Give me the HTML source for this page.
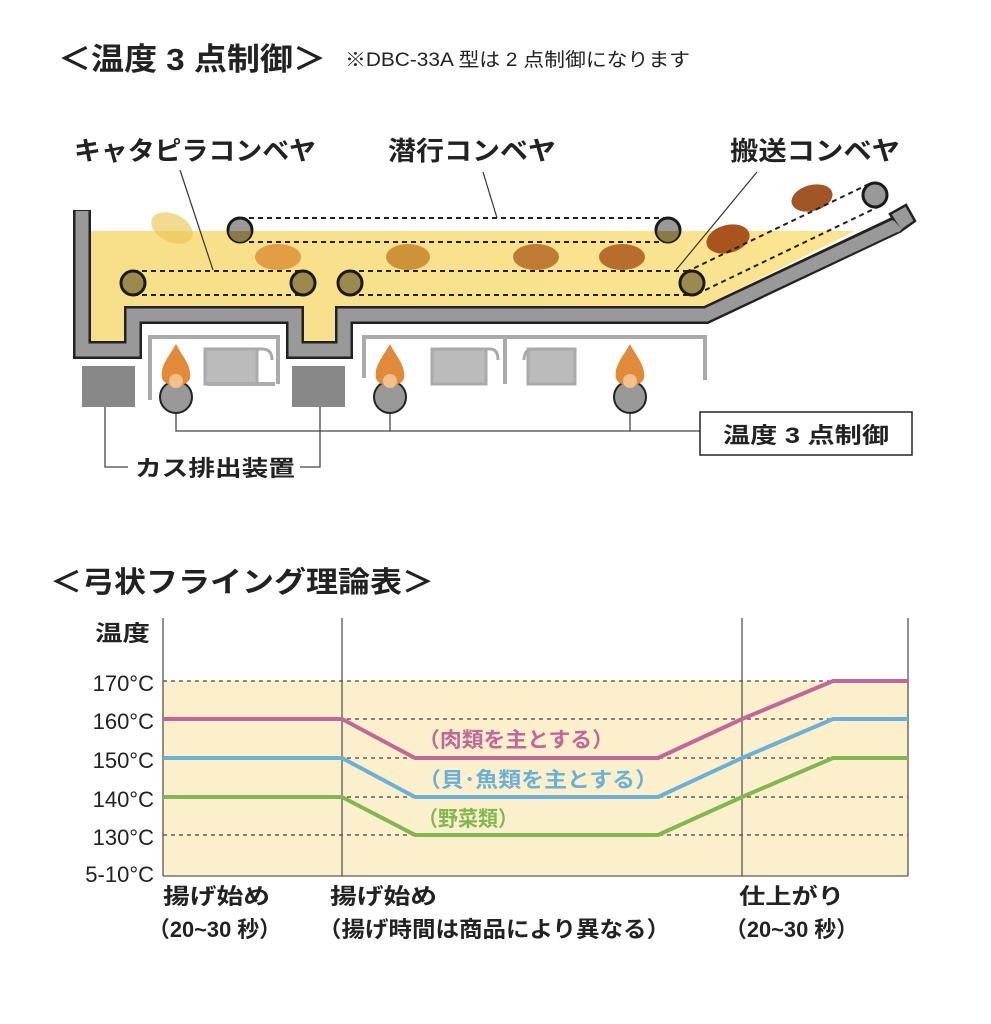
<!DOCTYPE html>
<html><head><meta charset="utf-8"><style>
html,body{margin:0;padding:0;background:#fff;}
svg{display:block;font-family:"Liberation Sans","Noto Sans CJK JP",sans-serif;}
</style></head><body>
<svg width="991" height="1024" viewBox="0 0 991 1024" xmlns="http://www.w3.org/2000/svg">
<text x="58" y="70" font-size="31" font-weight="bold" fill="#222" textLength="268" lengthAdjust="spacingAndGlyphs">＜温度 3 点制御＞</text>
<text x="345" y="66" font-size="19" fill="#222" textLength="345" lengthAdjust="spacingAndGlyphs">※DBC-33A 型は 2 点制御になります</text>
<text x="74" y="160" font-size="26" font-weight="bold" fill="#222" textLength="242" lengthAdjust="spacingAndGlyphs">キャタピラコンベヤ</text>
<text x="388" y="160" font-size="26" font-weight="bold" fill="#222" textLength="168" lengthAdjust="spacingAndGlyphs">潜行コンベヤ</text>
<text x="730" y="160" font-size="26" font-weight="bold" fill="#222" textLength="170" lengthAdjust="spacingAndGlyphs">搬送コンベヤ</text>

<defs><linearGradient id="oil" x1="0" x2="1" y1="0" y2="0"><stop offset="0" stop-color="#f7df8a"/><stop offset="1" stop-color="#fbe491"/></linearGradient></defs>
<polygon points="90,231 855,231 703,307 336,307 336,343 303,343 303,307 125,307 125,343 90,343" fill="url(#oil)"/>

<polyline points="82,210 82,350 133,350 133,315 295,315 295,350 344,350 344,315 706,315 898,224" fill="none" stroke="#222" stroke-width="18" stroke-linejoin="miter"/>
<polyline points="82,211 82,350 133,350 133,315 295,315 295,350 344,350 344,315 706,315 897,225" fill="none" stroke="#999" stroke-width="13" stroke-linejoin="miter"/>
<polygon points="890,214 906,205 915,221 901,231" fill="#999" stroke="#222" stroke-width="2.5" stroke-linejoin="miter"/>
<line x1="892" y1="222" x2="900" y2="231" stroke="#999" stroke-width="5"/>

<ellipse cx="172" cy="228" rx="22" ry="14" transform="rotate(25 172 228)" fill="#e9c24a" opacity="0.6"/>
<ellipse cx="278" cy="257" rx="23" ry="13" fill="#e0963a" opacity="0.9"/>
<ellipse cx="408" cy="257" rx="22" ry="13" fill="#c98a30" opacity="0.9"/>
<ellipse cx="536" cy="257" rx="23" ry="13" fill="#b8702a" opacity="0.9"/>
<ellipse cx="622" cy="257" rx="23" ry="13" fill="#b0621f" opacity="0.9"/>
<ellipse cx="728" cy="239" rx="22" ry="14" transform="rotate(-15 728 239)" fill="#a8541c"/>
<ellipse cx="812" cy="198" rx="21" ry="13" transform="rotate(-15 812 198)" fill="#a25628"/>

<g stroke="#222" stroke-width="2" stroke-dasharray="5,4" fill="none">
<line x1="240" y1="218" x2="668" y2="218"/>
<line x1="240" y1="242" x2="668" y2="242"/>
<line x1="133" y1="271" x2="303" y2="271"/>
<line x1="133" y1="295" x2="303" y2="295"/>
<line x1="350" y1="271" x2="692" y2="271"/>
<line x1="350" y1="295" x2="692" y2="295"/>
<line x1="686" y1="272" x2="869" y2="184"/>
<line x1="697" y1="294" x2="880" y2="206"/>
</g>
<g stroke="#333" stroke-width="1.2">
<line x1="180" y1="170" x2="213" y2="270"/>
<line x1="483" y1="172" x2="497" y2="218"/>
<line x1="757" y1="172" x2="676" y2="270"/>
</g>
<g stroke="#1a1a1a" stroke-width="3">
<circle cx="240" cy="230" r="12" fill="#999"/>
<circle cx="668" cy="230" r="12" fill="#999"/>
<circle cx="875" cy="195" r="12" fill="#999"/>
<circle cx="133" cy="283" r="12" fill="#9a8a4e"/>
<circle cx="303" cy="283" r="12" fill="#9a8a4e"/>
<circle cx="350" cy="283" r="12" fill="#9a8a4e"/>
<circle cx="692" cy="283" r="12" fill="#9a8a4e"/>
</g>
<path d="M229,231 A11,11 0 0 0 251,231 Z" fill="#8a7a48"/>
<path d="M657,231 A11,11 0 0 0 679,231 Z" fill="#8a7a48"/>

<g fill="none" stroke="#aaa" stroke-width="4">
<polyline points="150,400 150,337 278,337 278,384"/>
<polyline points="364,378 364,337 705,337 705,380"/>
<line x1="505" y1="337" x2="505" y2="384"/>
</g>
<g fill="#bbb" stroke="#aaa" stroke-width="3">
<rect x="205" y="349" width="52" height="35"/>
<rect x="432" y="349" width="54" height="35"/>
<rect x="528" y="349" width="47" height="35"/>
</g>
<g fill="none" stroke="#aaa" stroke-width="3">
<path d="M250,349 L262,349 Q272,349 272,360"/>
<path d="M478,349 L490,349 Q498,349 498,360"/>
<path d="M524,360 Q524,349 534,349 L540,349"/>
</g>
<line x1="207" y1="384" x2="275" y2="384" stroke="#aaa" stroke-width="4"/>

<rect x="82" y="366" width="53" height="41" fill="#888"/>
<rect x="292" y="366" width="53" height="41" fill="#888"/>
<g stroke="#444" stroke-width="1.3" fill="none">
<polyline points="105,407 105,467 128,467"/>
<polyline points="300,467 320,467 320,407"/>
<polyline points="176,412 176,431 700,431"/>
<line x1="390" y1="412" x2="390" y2="431"/>
<line x1="630" y1="412" x2="630" y2="431"/>
</g>
<text x="135" y="476" font-size="22" font-weight="bold" fill="#222" textLength="160" lengthAdjust="spacingAndGlyphs">カス排出装置</text>

<g>
<circle cx="176" cy="397" r="16" fill="#999" stroke="#222" stroke-width="2"/>
<circle cx="390" cy="397" r="16" fill="#999" stroke="#222" stroke-width="2"/>
<circle cx="630" cy="397" r="16" fill="#999" stroke="#222" stroke-width="2"/>
<path d="M176,344 C168,358 160,366 162,378 C164,388 188,388 190,378 C192,366 182,356 176,344 Z" fill="#e08a3a"/>
<path d="M390,344 C382,358 374,366 376,378 C378,388 402,388 404,378 C406,366 396,356 390,344 Z" fill="#e08a3a"/>
<path d="M630,344 C622,358 614,366 616,378 C618,388 642,388 644,378 C646,366 636,356 630,344 Z" fill="#e08a3a"/>
<circle cx="176" cy="381" r="7" fill="#f3c08a"/>
<circle cx="390" cy="381" r="7" fill="#f3c08a"/>
<circle cx="630" cy="381" r="7" fill="#f3c08a"/>
</g>

<rect x="700" y="412" width="212" height="43" fill="#fff" stroke="#222" stroke-width="1.5"/>
<text x="723" y="443" font-size="22" font-weight="bold" fill="#222" textLength="166" lengthAdjust="spacingAndGlyphs">温度 3 点制御</text>

<text x="50" y="592" font-size="29" font-weight="bold" fill="#222" textLength="384" lengthAdjust="spacingAndGlyphs">＜弓状フライング理論表＞</text>
<rect x="163" y="681" width="745" height="194" fill="#fcefcc"/>
<g stroke="#444" stroke-width="1.2" stroke-dasharray="4,4">
<line x1="163" y1="681" x2="908" y2="681"/>
<line x1="163" y1="719" x2="908" y2="719"/>
<line x1="163" y1="758" x2="908" y2="758"/>
<line x1="163" y1="797" x2="908" y2="797"/>
<line x1="163" y1="835" x2="908" y2="835"/>
</g>
<g stroke="#555" stroke-width="1.3">
<line x1="163" y1="618" x2="163" y2="876"/>
<line x1="342" y1="618" x2="342" y2="876"/>
<line x1="742" y1="618" x2="742" y2="876"/>
<line x1="908" y1="618" x2="908" y2="876"/>
<line x1="163" y1="876" x2="908" y2="876"/>
</g>
<g fill="none" stroke-width="4">
<polyline points="163,719 342,719 415,758 658,758 742,719 833,681 908,681" stroke="#c0679c"/>
<polyline points="163,758 342,758 415,797 658,797 742,758 833,719 908,719" stroke="#6cb0d6"/>
<polyline points="163,797 342,797 415,835 658,835 742,797 833,758 908,758" stroke="#82b650"/>
</g>
<g font-size="21" font-weight="bold">
<text x="418" y="747" fill="#c0679c" textLength="196" lengthAdjust="spacingAndGlyphs">（肉類を主とする）</text>
<text x="418" y="787" fill="#6cb0d6" textLength="240" lengthAdjust="spacingAndGlyphs">（貝･魚類を主とする）</text>
<text x="418" y="826" fill="#82b650" textLength="100" lengthAdjust="spacingAndGlyphs">（野菜類）</text>
</g>
<g font-size="22" fill="#222">
<text x="95" y="641" font-weight="bold" textLength="55" lengthAdjust="spacingAndGlyphs">温度</text>
<text x="154" y="691" text-anchor="end">170°C</text>
<text x="154" y="729" text-anchor="end">160°C</text>
<text x="154" y="768" text-anchor="end">150°C</text>
<text x="154" y="807" text-anchor="end">140°C</text>
<text x="154" y="845" text-anchor="end">130°C</text>
<text x="154" y="882" text-anchor="end">5-10°C</text>
</g>
<g font-size="22" font-weight="bold" fill="#222">
<text x="163" y="904" textLength="107" lengthAdjust="spacingAndGlyphs">揚げ始め</text>
<text x="148" y="937" textLength="133" lengthAdjust="spacingAndGlyphs">（20~30 秒）</text>
<text x="330" y="904" textLength="107" lengthAdjust="spacingAndGlyphs">揚げ始め</text>
<text x="318" y="937" textLength="352" lengthAdjust="spacingAndGlyphs">（揚げ時間は商品により異なる）</text>
<text x="739" y="904" textLength="105" lengthAdjust="spacingAndGlyphs">仕上がり</text>
<text x="725" y="937" textLength="133" lengthAdjust="spacingAndGlyphs">（20~30 秒）</text>
</g>
</svg>
</body></html>
